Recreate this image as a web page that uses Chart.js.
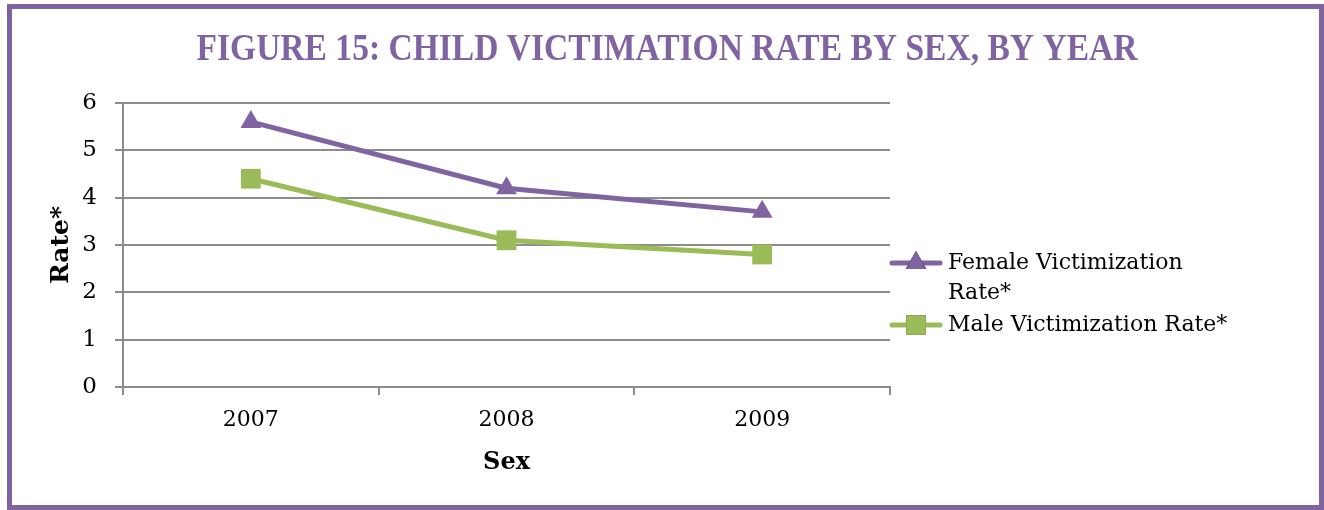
<!DOCTYPE html>
<html>
<head>
<meta charset="utf-8">
<script src="https://cdn.jsdelivr.net/npm/chart.js@4/dist/chart.umd.min.js"></script>
<style>
  html, body { margin: 0; padding: 0; background: #fff; }
  #wrap { position: relative; width: 1324px; height: 510px; }
  #frame {
    position: absolute; left: 7px; top: 4px; right: 0; bottom: 0;
    border: 5px solid #8064A2; pointer-events: none;
  }
  canvas { position: absolute; left: 0; top: 0; }
</style>
</head>
<body>
<div id="wrap">
  <canvas id="rates" width="1324" height="510"></canvas>
  <div id="frame"></div>
</div>
<script>
// Child victimization rate by sex
const chartTitle = 'FIGURE 15: CHILD VICTIMATION RATE BY SEX, BY YEAR'
const years = ['2007', '2008', '2009']
const femaleRates = [5.6, 4.2, 3.7]
const maleRates = [4.4, 3.1, 2.8]
const seriesNames = [['Female Victimization', 'Rate*'], ['Male Victimization Rate*']]

const PURPLE = '#8064A2'
const GREEN = '#9BBB59'
const GRID = '#8c8c8c'
const SERIF = "'DejaVu Serif', 'Liberation Serif', serif"

// title + wrapped legend on the right, drawn by hand
const sidePanel = {
  id: 'sidePanel',
  afterDraw (chart) {
    const { ctx, chartArea } = chart

    ctx.save()
    ctx.font = "bold 38px 'Liberation Serif', serif"
    const w = ctx.measureText(chartTitle).width
    const sx = Math.min(1, 941 / w)
    ctx.translate(667, 50)
    ctx.scale(sx, 1)
    ctx.fillStyle = PURPLE
    ctx.textAlign = 'center'
    ctx.textBaseline = 'middle'
    ctx.fillText(chartTitle, 0, 0)
    ctx.restore()

    const x0 = chartArea.right
    const rows = [263, 325]
    chart.data.datasets.forEach((ds, i) => {
      const y = rows[i]
      ctx.save()
      ctx.strokeStyle = ds.borderColor
      ctx.lineWidth = ds.borderWidth
      ctx.lineCap = 'round'
      ctx.beginPath()
      ctx.moveTo(x0 + 2, y)
      ctx.lineTo(x0 + 50, y)
      ctx.stroke()
      Chart.helpers.drawPoint(ctx, {
        pointStyle: ds.pointStyle,
        radius: ds.pointRadius,
        borderWidth: 0,
        rotation: 0
      }, x0 + 26, y)
      ctx.fillStyle = ds.backgroundColor
      ctx.fill()
      ctx.fillStyle = '#000'
      ctx.font = '22px ' + SERIF
      ctx.textAlign = 'left'
      ctx.textBaseline = 'middle'
      seriesNames[i].forEach((line, k) => ctx.fillText(line, x0 + 58, y + k * 30))
      ctx.restore()
    })
  }
}

new Chart(document.getElementById('rates'), {
  type: 'line',
  data: {
    labels: years,
    datasets: [
      {
        label: seriesNames[0].join(' '),
        data: femaleRates,
        borderColor: PURPLE,
        backgroundColor: PURPLE,
        borderWidth: 5,
        pointStyle: 'triangle',
        pointRadius: 12,
        pointBorderWidth: 0,
        tension: 0
      },
      {
        label: seriesNames[1].join(' '),
        data: maleRates,
        borderColor: GREEN,
        backgroundColor: GREEN,
        borderWidth: 5,
        pointStyle: 'rect',
        pointRadius: 14,
        pointBorderWidth: 0,
        tension: 0
      }
    ]
  },
  options: {
    responsive: false,
    animation: false,
    layout: { padding: { left: 0, right: 434, top: 103, bottom: 0 } },
    plugins: {
      legend: { display: false },
      title: { display: false },
      tooltip: { enabled: false }
    },
    scales: {
      x: {
        offset: true,
        afterFit: s => { s.height = 123 },
        grid: {
          offset: true,
          drawOnChartArea: false,
          color: GRID,
          lineWidth: 2,
          tickLength: 8
        },
        border: { color: GRID, width: 2 },
        ticks: { color: '#000', padding: 12, font: { family: SERIF, size: 22 } },
        title: {
          display: true,
          text: 'Sex',
          color: '#000',
          font: { family: SERIF, size: 24, weight: 'bold' },
          padding: { top: 0, bottom: 33 }
        }
      },
      y: {
        min: 0,
        max: 6,
        afterFit: s => { s.width = 123 },
        grid: { color: GRID, lineWidth: 2, tickLength: 8 },
        border: { color: GRID, width: 2 },
        ticks: { stepSize: 1, color: '#000', padding: 18, font: { family: SERIF, size: 23 } },
        title: {
          display: true,
          text: 'Rate*',
          color: '#000',
          font: { family: SERIF, size: 25, weight: 'bold' },
          padding: { top: 46, bottom: 0 }
        }
      }
    }
  },
  plugins: [sidePanel]
})
</script>
</body>
</html>
